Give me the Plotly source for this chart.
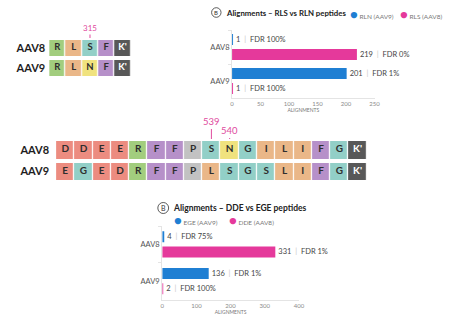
import plotly.graph_objects as go

W, H = 473, 321


def fx(p):
    return p / W


def fy(p):
    return 1 - p / H


# ---------------- data ----------------
seq_rows = ["AAV8", "AAV9"]

top_seq_aav8 = ["R", "L", "S", "F", "K'"]
top_seq_aav9 = ["R", "L", "N", "F", "K'"]
top_site_labels = ["315"]
top_site_cols = [2]

mid_seq_aav8 = ["D", "D", "E", "E", "R", "F", "F", "P", "S", "N", "G", "I", "L", "I", "F", "G", "K'"]
mid_seq_aav9 = ["E", "G", "E", "D", "R", "F", "F", "P", "L", "S", "G", "S", "L", "I", "F", "G", "K'"]
mid_site_labels = ["539", "540"]
mid_site_cols = [8, 9]

chart1_categories = ["AAV8", "AAV9"]
chart1_rln = [1, 201]
chart1_rln_fdr = [100, 1]
chart1_rls = [219, 1]
chart1_rls_fdr = [0, 100]
chart1_ticks = [0, 50, 100, 150, 200, 250]

chart2_categories = ["AAV8", "AAV9"]
chart2_ege = [4, 136]
chart2_ege_fdr = [75, 1]
chart2_dde = [331, 2]
chart2_dde_fdr = [1, 100]
chart2_ticks = [0, 100, 200, 300, 400]

# ---------------- styles ----------------
residue_colors = {
    "D": "#ec8c80", "E": "#ec8c80",
    "R": "#a2cd7e",
    "F": "#b690c9",
    "L": "#eab788", "I": "#eab788",
    "S": "#92cfc7", "G": "#92cfc7",
    "N": "#f0e27e",
    "P": "#c2c2c2",
    "K'": "#585858",
}
palette = list(dict.fromkeys(residue_colors.values()))
n_pal = len(palette)
colorscale = [[i / (n_pal - 1), c] for i, c in enumerate(palette)]

BLUE = "#1f7fd3"
PINK = "#e5399b"
SITE = "#e04b9e"
FONT = "Lato, Inter, sans-serif"

fig = go.Figure()


def add_sequence(rows, xa, ya, font_size):
    zs, xs, ys, txt, tcol = [], [], [], [], []
    for r, row in enumerate(rows):
        zs.append([palette.index(residue_colors[a]) for a in row])
        for c, a in enumerate(row):
            xs.append(c)
            ys.append(r)
            txt.append("<b>" + a + "</b>")
            tcol.append("#ffffff" if a == "K'" else "#2e2e2e")
    fig.add_trace(go.Heatmap(
        z=zs, x=list(range(len(rows[0]))), y=list(range(len(rows))),
        colorscale=colorscale, zmin=0, zmax=n_pal - 1, showscale=False,
        xgap=1.2, ygap=4, hoverinfo="skip", xaxis=xa, yaxis=ya))
    fig.add_trace(go.Scatter(
        x=xs, y=ys, mode="text", text=txt,
        textfont=dict(size=font_size, color=tcol, family=FONT),
        hoverinfo="skip", showlegend=False, xaxis=xa, yaxis=ya))


add_sequence([top_seq_aav8, top_seq_aav9], "x", "y", 9.5)
add_sequence([mid_seq_aav8, mid_seq_aav9], "x3", "y3", 10)


def bar_text(vals, fdrs):
    return [f"{v}  <span style='color:#c8c8c8'>|</span>  FDR {f}%" for v, f in zip(vals, fdrs)]


def add_bars(cats, vals, fdrs, color, name, xa, ya, width, offset):
    fig.add_trace(go.Bar(
        y=cats, x=vals, orientation="h", name=name,
        marker=dict(color=color, line=dict(width=0)),
        width=width, offset=offset,
        text=bar_text(vals, fdrs), textposition="outside", cliponaxis=False,
        constraintext="none",
        textfont=dict(size=7.5, color="#444444", family=FONT),
        showlegend=False, hoverinfo="skip", xaxis=xa, yaxis=ya))


add_bars(chart1_categories, chart1_rln, chart1_rln_fdr, BLUE, "RLN (AAV9)", "x2", "y2", 0.32, -0.38)
add_bars(chart1_categories, chart1_rls, chart1_rls_fdr, PINK, "RLS (AAV8)", "x2", "y2", 0.32, 0.06)
add_bars(chart2_categories, chart2_ege, chart2_ege_fdr, BLUE, "EGE (AAV9)", "x4", "y4", 0.30, -0.355)
add_bars(chart2_categories, chart2_dde, chart2_dde_fdr, PINK, "DDE (AAV8)", "x4", "y4", 0.30, 0.055)

seq_label_text = ["<b>" + s + "</b>" for s in seq_rows]

layout = dict(
    width=W, height=H, autosize=False,
    margin=dict(l=0, r=0, t=0, b=0),
    paper_bgcolor="white", plot_bgcolor="white",
    font=dict(family=FONT, color="#333333"),
    barmode="overlay",
    # top sequence
    xaxis=dict(domain=[fx(48), fx(131)], range=[-0.5, len(top_seq_aav8) - 0.5],
               visible=False, fixedrange=True),
    yaxis=dict(domain=[fy(78), fy(38)], range=[1.5, -0.5], tickvals=[0, 1],
               ticktext=seq_label_text, tickfont=dict(size=11, color="#1e1e1e"),
               showgrid=False, zeroline=False, showline=False, ticks="",
               ticklabelstandoff=3),
    # middle sequence
    xaxis3=dict(domain=[fx(55), fx(371)], range=[-0.5, len(mid_seq_aav8) - 0.5],
                visible=False, anchor="y3"),
    yaxis3=dict(domain=[fy(182), fy(139)], range=[1.5, -0.5], tickvals=[0, 1],
                ticktext=seq_label_text, tickfont=dict(size=11, color="#1e1e1e"),
                showgrid=False, zeroline=False, showline=False, ticks="",
                ticklabelstandoff=6, anchor="x3"),
    # top bar chart
    xaxis2=dict(domain=[fx(234), fx(379)], range=[0, 250], tickvals=chart1_ticks,
                tickfont=dict(size=6, color="#8a8a8a"), showgrid=False, zeroline=False,
                showline=True, linecolor="#e4e4e4", ticks="", anchor="y2",
                title=dict(text="ALIGNMENTS", font=dict(size=5, color="#777777"), standoff=2)),
    yaxis2=dict(domain=[fy(98), fy(30)], type="category", categoryarray=chart1_categories,
                autorange="reversed", tickfont=dict(size=7.5, color="#555555"),
                showgrid=False, zeroline=False, showline=True, linecolor="#e4e4e4",
                ticks="outside", tickson="boundaries", ticklen=3, tickcolor="#e4e4e4",
                anchor="x2"),
    # bottom bar chart
    xaxis4=dict(domain=[fx(163), fx(302)], range=[0, 400], tickvals=chart2_ticks,
                tickfont=dict(size=6, color="#8a8a8a"), showgrid=False, zeroline=False,
                showline=True, linecolor="#e4e4e4", ticks="", anchor="y4",
                title=dict(text="ALIGNMENTS", font=dict(size=5, color="#777777"), standoff=2)),
    yaxis4=dict(domain=[fy(299.5), fy(226)], type="category", categoryarray=chart2_categories,
                autorange="reversed", tickfont=dict(size=7.5, color="#555555"),
                showgrid=False, zeroline=False, showline=True, linecolor="#e4e4e4",
                ticks="outside", tickson="boundaries", ticklen=3, tickcolor="#e4e4e4",
                anchor="x4"),
)
fig.update_layout(**layout)

annotations = []
shapes = []

# site markers
for lab, col in zip(top_site_labels, top_site_cols):
    annotations.append(dict(x=col, y=-0.5, xref="x", yref="y", text=lab, showarrow=True,
                            arrowhead=0, arrowwidth=1, arrowcolor=SITE, ax=0, ay=-10,
                            font=dict(size=8, color=SITE)))
for lab, col, ay in zip(mid_site_labels, mid_site_cols, [-17, -8]):
    annotations.append(dict(x=col, y=-0.5, xref="x3", yref="y3", text=lab, showarrow=True,
                            arrowhead=0, arrowwidth=1, arrowcolor=SITE, ax=0, ay=ay,
                            font=dict(size=9.5, color=SITE)))

# chart titles with circled letter


def circled(cx, cy, r, letter, size):
    shapes.append(dict(type="circle", xref="paper", yref="paper",
                       x0=fx(cx - r), x1=fx(cx + r), y0=fy(cy + r), y1=fy(cy - r),
                       line=dict(color="#333333", width=0.8)))
    annotations.append(dict(x=fx(cx), y=fy(cy), xref="paper", yref="paper", text=letter,
                            showarrow=False, font=dict(size=size, color="#333333"),
                            xanchor="center", yanchor="middle"))


circled(218, 12.5, 4.8, "B", 6)
annotations.append(dict(x=fx(226), y=fy(13), xref="paper", yref="paper",
                        text="<b>Alignments – RLS vs RLN peptides</b>", showarrow=False,
                        xanchor="left", yanchor="middle",
                        font=dict(size=7.8, color="#222222")))
circled(164, 208, 5.5, "B", 7)
annotations.append(dict(x=fx(172), y=fy(208), xref="paper", yref="paper",
                        text="<b>Alignments – DDE vs EGE peptides</b>", showarrow=False,
                        xanchor="left", yanchor="middle",
                        font=dict(size=8.5, color="#222222")))

# legends


def legend_item(x, y, color, label, size):
    annotations.append(dict(x=fx(x), y=fy(y), xref="paper", yref="paper",
                            text=f"<span style='color:{color};font-size:13px'>●</span> {label}",
                            showarrow=False, xanchor="left", yanchor="middle",
                            font=dict(size=size, color="#777777")))


legend_item(352, 14, BLUE, "RLN (AAV9)", 6.5)
legend_item(403, 14, PINK, "RLS (AAV8)", 6.5)
legend_item(173, 220, BLUE, "EGE (AAV9)", 6.5)
legend_item(229, 220, PINK, "DDE (AAV8)", 6.5)

fig.update_layout(annotations=annotations, shapes=shapes)

fig.write_html("out.html")
